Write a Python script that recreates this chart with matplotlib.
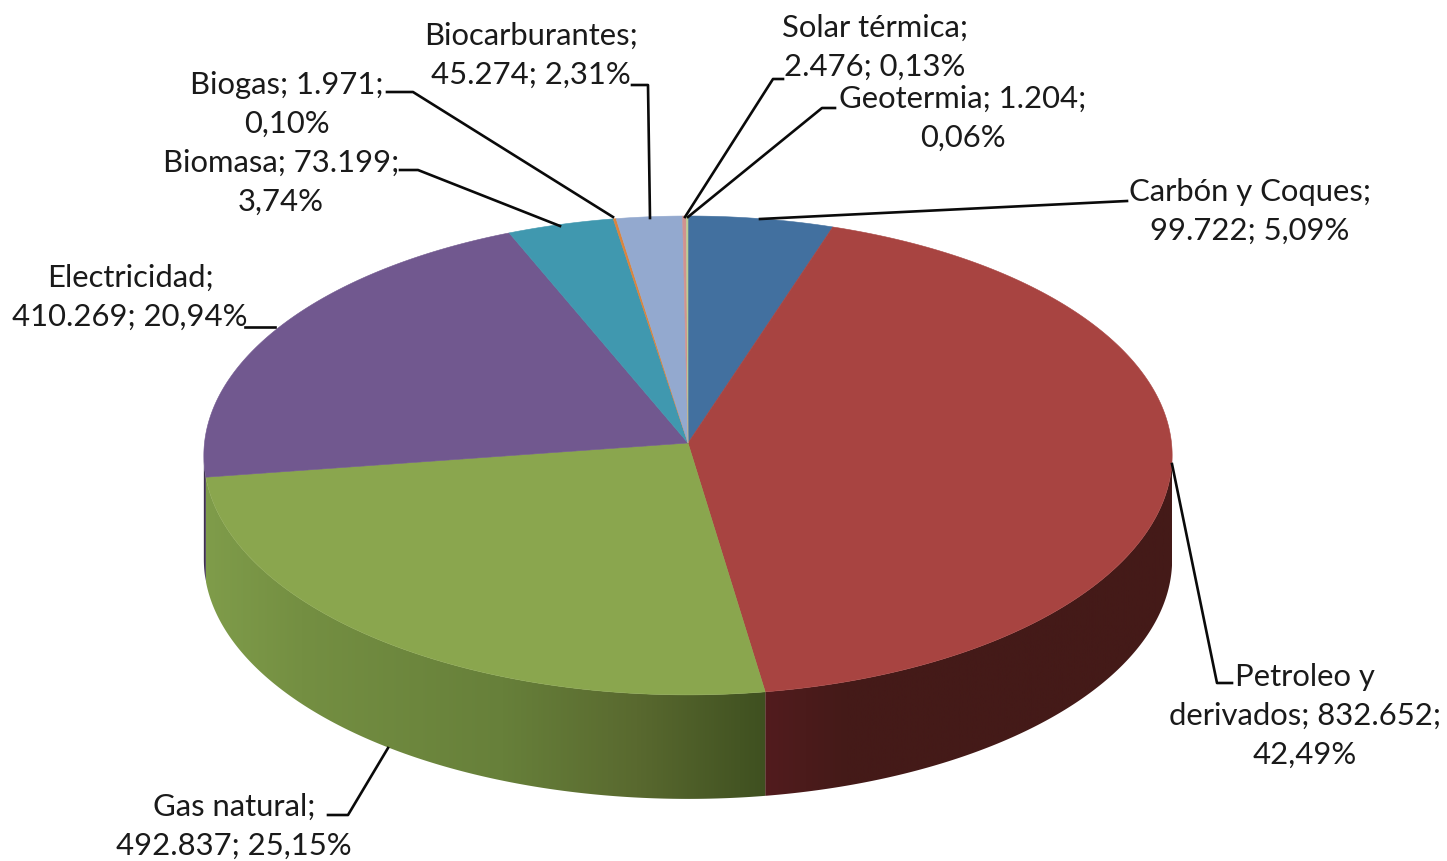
import numpy as np
import matplotlib
matplotlib.use("Agg")
import matplotlib.pyplot as plt
from matplotlib.colors import to_rgb, LinearSegmentedColormap
from matplotlib.patches import Polygon

categories = ["Carbón y Coques", "Petroleo y derivados", "Gas natural", "Electricidad",
              "Biomasa", "Biogas", "Biocarburantes", "Solar térmica", "Geotermia"]
values = [99722, 832652, 492837, 410269, 73199, 1971, 45274, 2476, 1204]
top_colors = ["#42709F", "#A84441", "#8AA64E", "#71588F", "#4098AF", "#DB843D",
              "#93A9CF", "#D1928F", "#B9CD96"]
label_texts = ["Carbón y Coques;\n99.722; 5,09%",
               "Petroleo y\nderivados; 832.652;\n42,49%",
               "Gas natural;\n492.837; 25,15%",
               "Electricidad;\n410.269; 20,94%",
               "Biomasa; 73.199;\n3,74%",
               "Biogas; 1.971;\n0,10%",
               "Biocarburantes;\n45.274; 2,31%",
               "Solar térmica;\n2.476; 0,13%",
               "Geotermia; 1.204;\n0,06%"]
label_pos = [(1250, 211), (1305, 716), (234, 826), (130, 297), (281, 182),
             (287, 104), (531, 55), (875, 47), (963, 118)]
leaders = [[(1127, 201), (760, 219)],
           [(1172, 464), (1217, 683), (1232, 683)],
           [(388, 748), (348, 815), (328, 815)],
           [(245, 327), (275, 327)],
           [(400, 170), (418, 170), (560, 226)],
           [(387, 92), (413, 92), (613, 217)],
           [(632, 85), (648, 85), (650, 218)],
           [(783, 79), (773, 79), (685, 217)],
           [(835, 108), (822, 108), (688, 217)]]

CX, CY, RX, RY, K, DEPTH = 688, 443, 483.5, 238.8, 0.052, 104


def rim(theta):
    u, w = np.cos(theta), np.sin(theta)
    s = 1 + K * u
    return CX + RX * w / s, CY - RY * u / s


fig = plt.figure(figsize=(14.47, 8.61), dpi=100, facecolor="white")
ax = fig.add_axes([0, 0, 1, 1])
ax.set_xlim(0, 1447)
ax.set_ylim(861, 0)
ax.axis("off")

fractions = np.array(values, dtype=float) / np.sum(values)
edges = np.concatenate([[0], np.cumsum(fractions)]) * 2 * np.pi

fine = np.linspace(0, 2 * np.pi, 7201)
xf, _ = rim(fine)
t_right, t_left = fine[np.argmax(xf)], fine[np.argmin(xf)]

# front wall: one polygon per visible slice, filled with a horizontal gradient
wall_shades = {
    1: [(0.0, "#521C1E"), (0.2, "#441A18"), (1.0, "#441A18")],
    2: [(0.0, "#7F9C4A"), (0.17, "#748F42"), (0.53, "#67803A"), (0.77, "#59692F"), (1.0, "#3F5020")],
}
for i in range(len(values)):
    lo, hi = max(edges[i], t_right), min(edges[i + 1], t_left)
    if hi <= lo:
        continue
    ts = np.linspace(lo, hi, 300)
    x, y = rim(ts)
    outline = np.column_stack([np.r_[x, x[::-1]], np.r_[y, y[::-1] + DEPTH]])
    shades = wall_shades.get(i)
    base = shades[-1][1] if shades else tuple(0.55 * v for v in to_rgb(top_colors[i]))
    if shades:
        # gradient runs with x: the green runs left to right, the red from its left seam
        left, right = x.min(), x.max()
        stops = shades if i == 2 else shades
        cmap = LinearSegmentedColormap.from_list(f"wall{i}", stops)
        poly = Polygon(outline, closed=True, facecolor="none", edgecolor="none", transform=ax.transData)
        ax.add_patch(poly)
        im = ax.imshow(np.linspace(0, 1, 512)[None, :], cmap=cmap, aspect="auto",
                       extent=[left, right, y.max() + DEPTH + 2, y.min() - 2], zorder=2)
        im.set_clip_path(poly)
    else:
        ax.add_patch(Polygon(outline, closed=True, facecolor=base, edgecolor="none", zorder=2))
ax.set_xlim(0, 1447)
ax.set_ylim(861, 0)

# top face
for i in range(len(values)):
    ts = np.linspace(edges[i], edges[i + 1], max(int((edges[i + 1] - edges[i]) * 200), 3))
    x, y = rim(ts)
    ax.fill(np.r_[CX, x], np.r_[CY, y], facecolor=top_colors[i],
            edgecolor=top_colors[i], lw=0.4, zorder=3)

for path in leaders:
    xs, ys = zip(*path)
    ax.plot(xs, ys, color="#0a0a0a", lw=1.9, solid_joinstyle="round", zorder=4)

for txt, (x, y) in zip(label_texts, label_pos):
    ax.text(x, y, txt, ha="center", va="center", family="Lato", fontsize=22.3,
            color="#1a1a1a", linespacing=1.46, zorder=5)

fig.savefig("out.png", dpi=100, facecolor="white")
